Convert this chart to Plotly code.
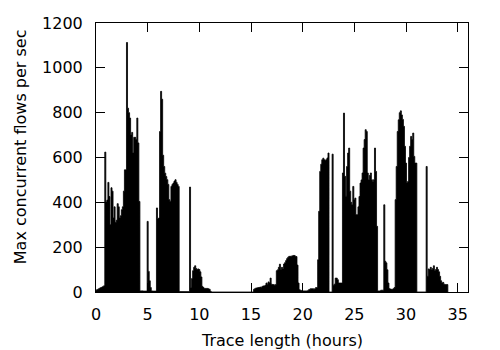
import plotly.graph_objects as go

BIN = 0.1
burst_starts = [0.0, 15.3, 32.0]
burst_a = [8, 10, 12, 15, 18, 20, 22, 25, 28, 624,
           402, 410, 489, 426, 300, 465, 450, 330, 380, 310,
           320, 394, 380, 330, 340, 367, 380, 450, 545, 545,
           1113, 820, 800, 776, 700, 712, 620, 690, 690, 680,
           776, 665, 404, 5, 5, 5, 4, 4, 4, 4,
           315, 92, 50, 20, 5, 4, 4, 4, 4, 375,
           327, 330, 716, 895, 860, 610, 560, 530, 515, 501,
           480, 412, 404, 471, 480, 486, 495, 501, 489, 480,
           471, 2, 2, 2, 2, 2, 2, 2, 2, 2,
           2, 468, 20, 60, 95, 110, 117, 105, 100, 103,
           100, 90, 67, 25, 20, 16, 16, 16, 16, 14,
           12, 3]
burst_b = [12, 15, 18, 18, 20, 20, 22, 20, 25, 27,
           27, 30, 40, 35, 45, 40, 62, 35, 33, 33,
           30, 33, 95, 99, 110, 124, 100, 110, 103, 125,
           131, 140, 149, 155, 159, 159, 160, 161, 163, 163,
           160, 158, 120, 40, 10, 8, 6, 5, 5, 5,
           5, 5, 6, 10, 12, 15, 15, 15, 12, 15,
           20, 20, 144, 360, 538, 570, 590, 597, 590, 588,
           590, 598, 620, 0, 0, 0, 615, 30, 35, 62,
           62, 55, 40, 40, 40, 40, 531, 798, 516, 427,
           560, 620, 642, 450, 400, 389, 471, 412, 419, 345,
           345, 380, 426, 486, 500, 531, 642, 680, 724, 716,
           531, 501, 520, 531, 501, 493, 501, 642, 538, 293,
           5, 5, 5, 8, 8, 8, 389, 137, 130, 99,
           40, 15, 13, 12, 12, 15, 20, 412, 560, 716,
           768, 800, 808, 790, 770, 739, 650, 575, 486, 493,
           600, 650, 694, 680, 709, 605, 575, 575]
burst_c = [560, 70, 103, 100, 110, 99, 105, 117, 96, 100,
           110, 100, 90, 70, 50, 40, 43, 35, 33, 33, 33]
bursts = [burst_a, burst_b, burst_c]

x_ticks = [0, 5, 10, 15, 20, 25, 30, 35]
y_ticks = [0, 200, 400, 600, 800, 1000, 1200]

xs, ys = [], []
for start, vals in zip(burst_starts, bursts):
    left = start - BIN / 2
    xs.append(left)
    ys.append(0)
    for i, v in enumerate(vals):
        xs.append(left + i * BIN)
        ys.append(v)
    xs.append(left + len(vals) * BIN)
    ys.append(0)

FONT = "DejaVu Sans, Liberation Sans, Arial, sans-serif"

fig = go.Figure()
fig.add_trace(go.Scatter(x=xs, y=ys, mode="lines", line_shape="hv",
                         line=dict(color="black", width=0.8),
                         fill="tozeroy", fillcolor="black",
                         hoverinfo="skip", showlegend=False))

fig.update_layout(
    width=500, height=350,
    margin=dict(l=96, r=32, t=23, b=58),
    paper_bgcolor="white", plot_bgcolor="white",
    font=dict(family=FONT, size=16, color="black"),
    showlegend=False,
    xaxis=dict(range=[0, 36], tickvals=x_ticks, ticktext=[str(v) for v in x_ticks],
               ticks="inside", ticklen=9, tickcolor="black", tickwidth=1,
               showline=True, linecolor="black", linewidth=1, mirror="ticks",
               showgrid=False, zeroline=False, ticklabelstandoff=8),
    yaxis=dict(range=[0, 1200], tickvals=y_ticks, ticktext=[str(v) for v in y_ticks],
               ticks="inside", ticklen=9, tickcolor="black", tickwidth=1,
               showline=True, linecolor="black", linewidth=1, mirror="ticks",
               showgrid=False, zeroline=False, ticklabelstandoff=9),
    annotations=[
        dict(text="Trace length (hours)", xref="paper", yref="paper",
             x=0.5, y=-0.181, xanchor="center", yanchor="middle",
             showarrow=False, font=dict(family=FONT, size=16, color="black")),
        dict(text="Max concurrent flows per sec", xref="paper", yref="paper",
             x=-0.203, y=0.54, xanchor="center", yanchor="middle", textangle=-90,
             showarrow=False, font=dict(family=FONT, size=16, color="black")),
    ],
)

fig.write_html("out.html")
